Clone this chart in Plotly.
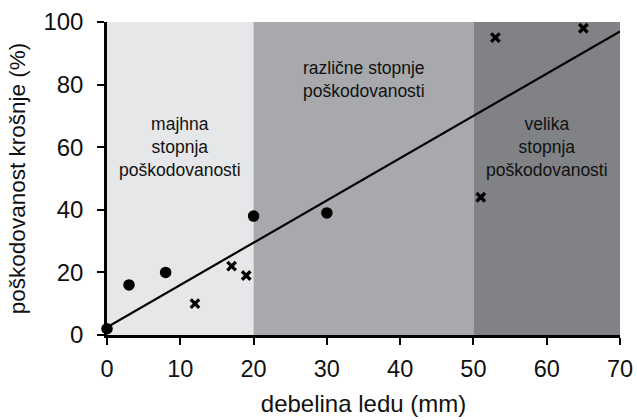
import plotly.graph_objects as go

# Measured data points
circle_x = [0, 3, 8, 20, 30]
circle_y = [2, 16, 20, 38, 39]
cross_x = [12, 17, 19, 51, 53, 65]
cross_y = [10, 22, 19, 44, 95, 98]

# Linear trend line endpoints
trend_x = [0, 70]
trend_y = [2.5, 97]

# Damage zones along ice thickness (mm)
zone_edges = [0, 20, 50, 70]
zone_colors = ["#e6e7e8", "#a7a9ac", "#808285"]
zone_labels = [
    "majhna<br>stopnja<br>poškodovanosti",
    "različne stopnje<br>poškodovanosti",
    "velika<br>stopnja<br>poškodovanosti",
]
zone_label_x = [10, 35, 60]
zone_label_y = [60, 81.5, 60]

x_ticks = [0, 10, 20, 30, 40, 50, 60, 70]
y_ticks = [0, 20, 40, 60, 80, 100]

FONT = "Liberation Sans, Arial, sans-serif"
INK = "#111111"

fig = go.Figure()

shapes = []
for i, col in enumerate(zone_colors):
    shapes.append(dict(
        type="rect", xref="x", yref="y",
        x0=zone_edges[i], x1=zone_edges[i + 1], y0=0, y1=100,
        fillcolor=col, line=dict(width=0), layer="below",
    ))

fig.add_trace(go.Scatter(
    x=trend_x, y=trend_y, mode="lines",
    line=dict(color="black", width=2.2),
    hoverinfo="skip", cliponaxis=False,
))
fig.add_trace(go.Scatter(
    x=circle_x, y=circle_y, mode="markers",
    marker=dict(symbol="circle", size=11.5, color="black", line=dict(width=0)),
    cliponaxis=False,
))
fig.add_trace(go.Scatter(
    x=cross_x, y=cross_y, mode="markers",
    marker=dict(symbol="x-thin", size=8.5, color="black",
                line=dict(width=3.3, color="black")),
    cliponaxis=False,
))

annotations = []
for txt, ax, ay in zip(zone_labels, zone_label_x, zone_label_y):
    annotations.append(dict(
        x=ax, y=ay, xref="x", yref="y", text=txt, showarrow=False,
        align="center", font=dict(family=FONT, size=17.5, color=INK),
    ))

fig.update_layout(
    width=637, height=420,
    margin=dict(l=107, r=17, t=22, b=85),
    paper_bgcolor="white", plot_bgcolor="white",
    showlegend=False,
    shapes=shapes,
    annotations=annotations,
    font=dict(family=FONT, color=INK),
)

fig.update_xaxes(
    range=[0, 70], tickvals=x_ticks, ticktext=[str(v) for v in x_ticks],
    automargin=False,
    showgrid=False, zeroline=False,
    showline=True, linecolor="black", linewidth=2.5,
    ticks="outside", ticklen=7, tickwidth=2, tickcolor="black",
    ticklabelstandoff=4,
    tickfont=dict(family=FONT, size=23.5, color=INK),
    title=dict(text="debelina ledu (mm)", font=dict(family=FONT, size=24, color=INK),
               standoff=15),
)
fig.update_yaxes(
    range=[0, 100], tickvals=y_ticks, ticktext=[str(v) for v in y_ticks],
    automargin=False,
    showgrid=False, zeroline=False,
    showline=True, linecolor="black", linewidth=2.5,
    ticks="outside", ticklen=7, tickwidth=2, tickcolor="black",
    ticklabelstandoff=9,
    tickfont=dict(family=FONT, size=24, color=INK),
    title=dict(text="poškodovanost krošnje (%)", font=dict(family=FONT, size=22.5, color=INK),
               standoff=12),
)

fig.write_html("out.html")
